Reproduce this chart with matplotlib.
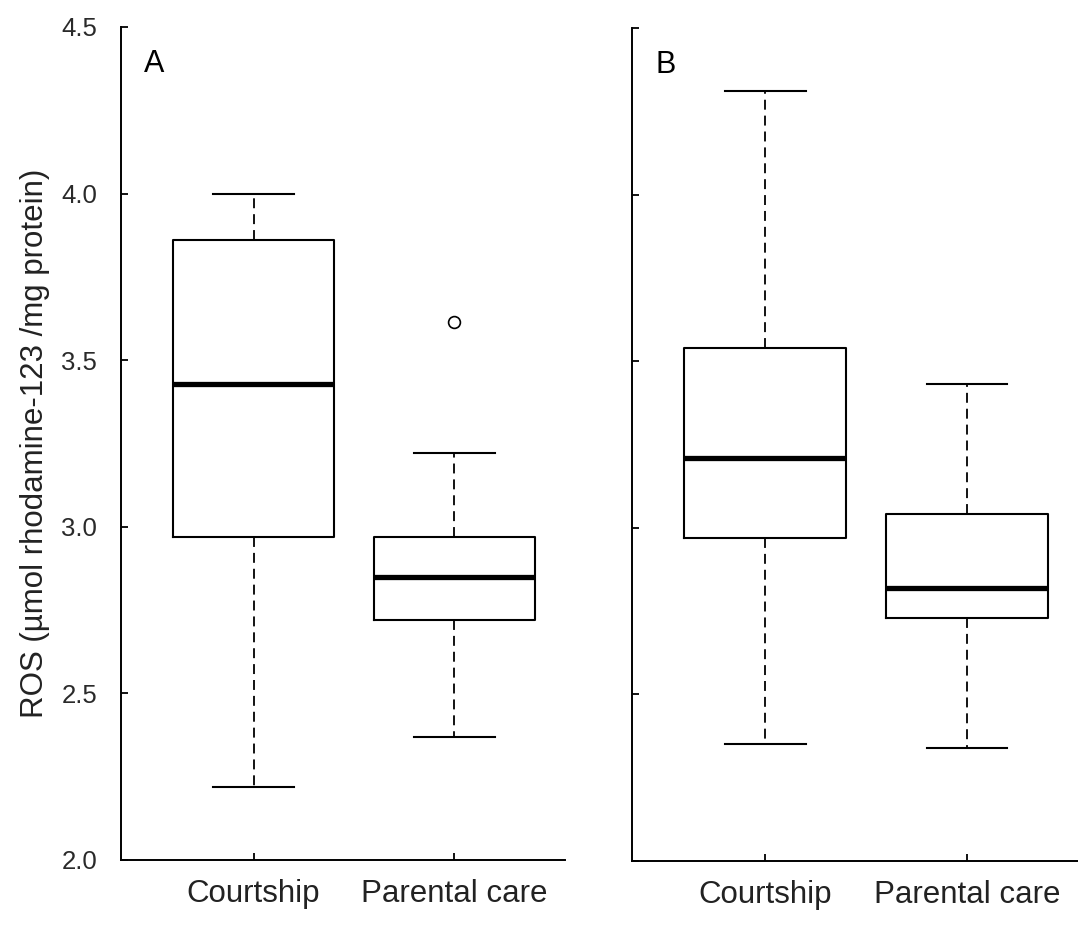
import matplotlib
matplotlib.use("Agg")
import matplotlib.pyplot as plt

plt.rcParams['font.family'] = ['Liberation Sans', 'DejaVu Sans']

groups = ['Courtship', 'Parental care']
panels = ['A', 'B']

# five-number summaries per panel: (whisker low, Q1, median, Q3, whisker high)
whislo = [[2.22, 2.37], [2.35, 2.34]]
q1 = [[2.97, 2.72], [2.97, 2.73]]
med = [[3.43, 2.85], [3.21, 2.82]]
q3 = [[3.86, 2.97], [3.54, 3.04]]
whishi = [[4.00, 3.22], [4.31, 3.43]]
fliers = [[[], [3.615]], [[], []]]

y_ticks = [2.0, 2.5, 3.0, 3.5, 4.0, 4.5]

fig = plt.figure(figsize=(10.78, 9.27), dpi=100)
ax_a = fig.add_axes([0.1122, 0.0723, 0.4119, 0.8986])
ax_b = fig.add_axes([0.5863, 0.0712, 0.4137, 0.8987])

for p, ax in enumerate([ax_a, ax_b]):
    stats = []
    for g in range(len(groups)):
        stats.append({
            'whislo': whislo[p][g], 'q1': q1[p][g], 'med': med[p][g],
            'q3': q3[p][g], 'whishi': whishi[p][g], 'fliers': fliers[p][g],
        })
    ax.bxp(stats, positions=[1, 2], widths=0.8, capwidths=0.4,
           boxprops=dict(color='black', linewidth=1.5),
           medianprops=dict(color='black', linewidth=3.8, solid_capstyle='butt'),
           whiskerprops=dict(color='black', linewidth=1.3, linestyle=(0, (5.5, 3.3))),
           capprops=dict(color='black', linewidth=1.5),
           flierprops=dict(marker='o', markersize=8.5, markerfacecolor='none',
                           markeredgecolor='black', markeredgewidth=1.2))

    ax.set_xlim(0.34, 2.55)
    ax.set_ylim(2.0, 4.5)
    ax.set_yticks(y_ticks)
    ax.set_xticks([1, 2])
    ax.set_xticklabels(groups, fontsize=22.5, color='#222222')
    for side in ['top', 'right']:
        ax.spines[side].set_visible(False)
    for side in ['left', 'bottom']:
        ax.spines[side].set_linewidth(1.4)
    ax.tick_params(axis='both', direction='in', length=5, width=1.3)
    ax.tick_params(axis='x', pad=14)
    ax.tick_params(axis='y', pad=17, labelsize=18.5, labelcolor='#2a2a2a')
    ax.text(0.052, 0.946, panels[p], transform=ax.transAxes, fontsize=22,
            ha='left', va='baseline')

ax_a.set_yticklabels([f'{t:.1f}' for t in y_ticks])
ax_b.set_yticklabels([])
ax_a.set_ylabel('ROS (µmol rhodamine-123 /mg protein)', fontsize=22.5,
                color='#222222', labelpad=8)

fig.savefig('out.png', dpi=100)
